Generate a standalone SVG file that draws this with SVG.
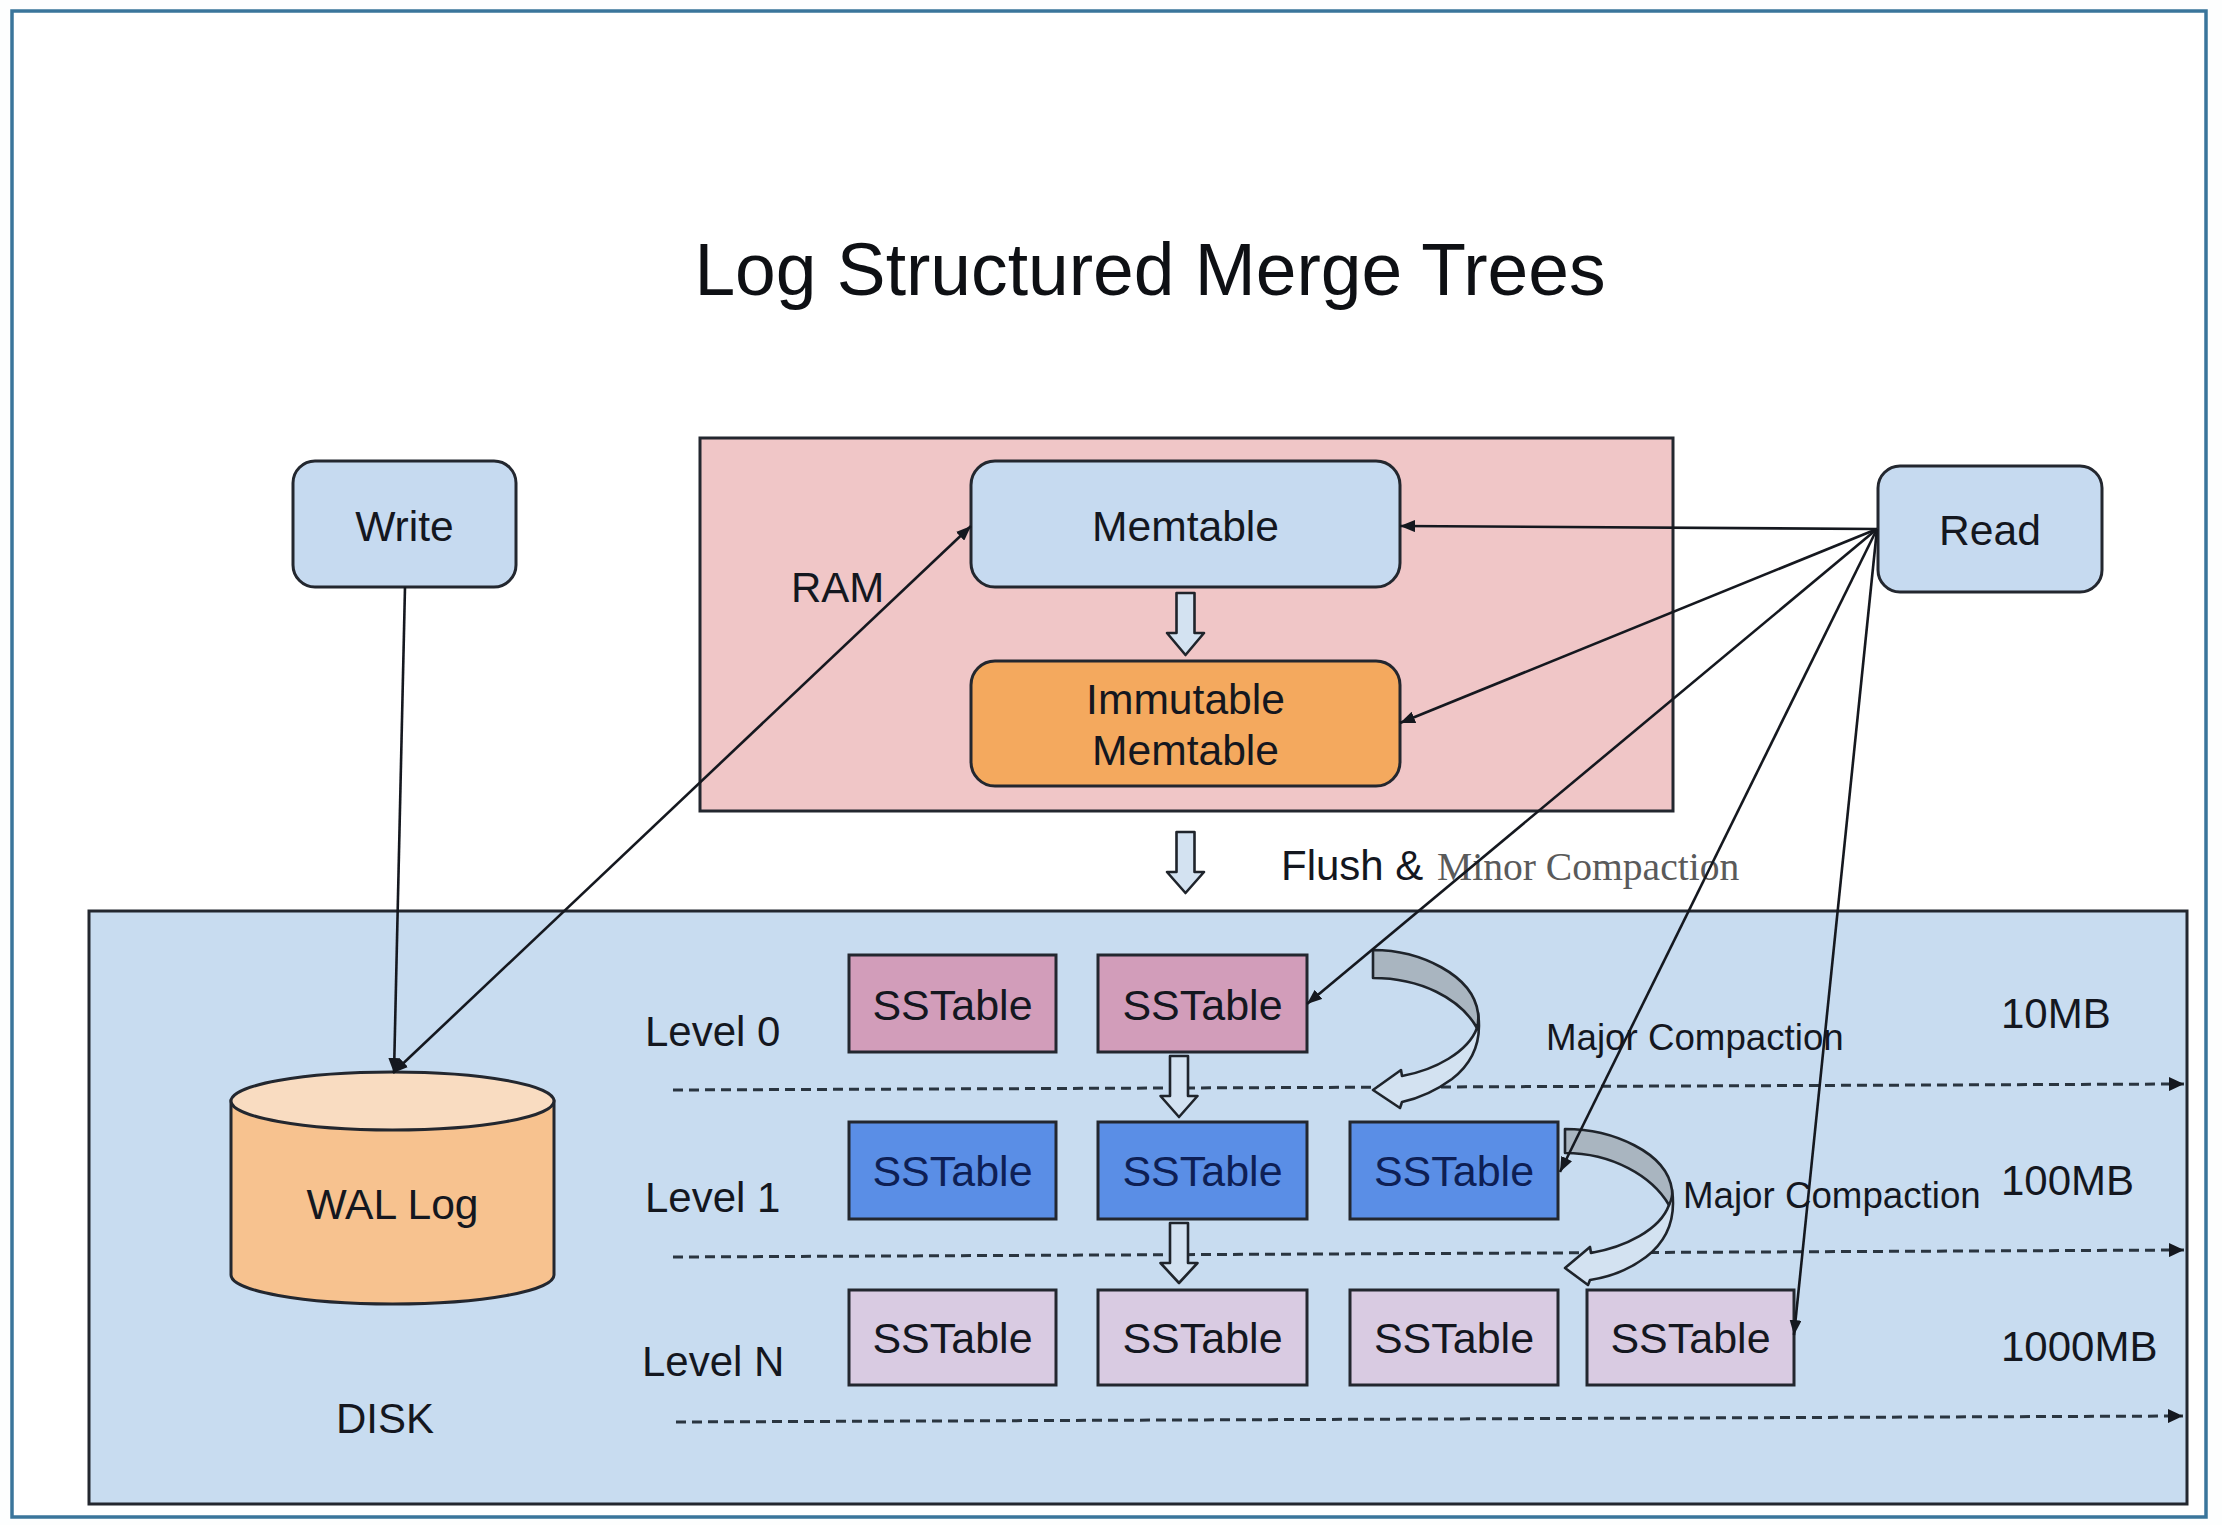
<svg xmlns="http://www.w3.org/2000/svg" width="2222" height="1525" viewBox="0 0 2222 1525">
<style>
text{font-family:"Liberation Sans",Arial,sans-serif;fill:#14171f;font-size:42px}
.m{text-anchor:middle}
.n{font-size:42.600px}
.box{stroke:#23272f;stroke-width:3}
.conn{fill:none;stroke:#15181f;stroke-width:2.600}
.dash{fill:none;stroke:#2a3540;stroke-width:3;stroke-dasharray:10 6}
.blk{fill:#d3e2f1;stroke:#1f242b;stroke-width:2.600;stroke-linejoin:round}
.gray{fill:#a9b5c0;stroke:#1f242b;stroke-width:2.600;stroke-linejoin:round}
.sst{font-size:43px}
.maj{font-size:36.700px}
.pink{fill:#d29dba}.blue{fill:#5a8ee6}.lilac{fill:#d9cbe2}
</style>
<defs>
<marker id="a" viewBox="0 0 15 12" refX="15" refY="6" markerWidth="15" markerHeight="12" orient="auto-start-reverse" markerUnits="userSpaceOnUse"><path d="M0 0L15 6L0 12Z" fill="#15181f"/></marker>
<marker id="d" viewBox="0 0 15 14" refX="15" refY="7" markerWidth="15" markerHeight="14" orient="auto" markerUnits="userSpaceOnUse"><path d="M0 0L15 7L0 14Z" fill="#15181f"/></marker>
</defs>
<rect id="canvas" width="2222" height="1525" fill="#fdfefe"/>
<rect id="frame" x="12" y="11" width="2194" height="1506" fill="#ffffff" stroke="#3a759b" stroke-width="3.500"/>
<text id="title" x="1150" y="295" class="m" style="font-size:73.200px;fill:#0e1014">Log Structured Merge Trees</text>

<g id="ram"><rect class="box" x="700" y="438" width="973" height="373" fill="#f0c6c7"/><text x="791" y="602">RAM</text></g>
<g id="disk"><rect class="box" x="89" y="911" width="2098" height="593" fill="#c8dcf0"/><text x="336" y="1433">DISK</text></g>

<g id="write"><rect class="box" x="293" y="461" width="223" height="126" rx="22" fill="#c6daf0"/><text class="m n" x="404.500" y="541">Write</text></g>
<g id="read"><rect class="box" x="1878" y="466" width="224" height="126" rx="22" fill="#c6daf0"/><text class="m n" x="1990" y="545">Read</text></g>
<g id="memtable"><rect class="box" x="971" y="461" width="429" height="126" rx="24" fill="#c6daf0"/><text class="m n" x="1185.500" y="541">Memtable</text></g>
<g id="immutable"><rect class="box" x="971" y="661" width="429" height="125" rx="24" fill="#f4a95e"/><text class="m n" x="1185.500" y="714">Immutable</text><text class="m n" x="1185.500" y="765">Memtable</text></g>

<g id="wal">
<path class="box" d="M231 1101V1275A161.500 29 0 0 0 554 1275V1101Z" fill="#f7c28f"/>
<ellipse class="box" cx="392.500" cy="1101" rx="161.500" ry="29" fill="#f9dcc1"/>
<text class="m n" x="392.500" y="1219">WAL Log</text>
</g>

<g id="labels">
<text x="645" y="1046">Level 0</text><text x="645" y="1212">Level 1</text><text x="642" y="1376">Level N</text>
<text x="2001" y="1028">10MB</text><text x="2001" y="1195">100MB</text><text x="2001" y="1361">1000MB</text>
<text x="1281" y="880">Flush &amp;</text>
<text x="1437" y="880" style="font-family:'Liberation Serif',serif;font-size:39.600px;fill:#5a5a5a">Minor Compaction</text>
<text class="maj" x="1546" y="1050">Major Compaction</text>
<text class="maj" x="1683" y="1208">Major Compaction</text>
</g>

<g id="sst-0-0"><rect class="box pink" x="849" y="955" width="207" height="97"/><text class="m sst" x="952.500" y="1020">SSTable</text></g>
<g id="sst-0-1"><rect class="box pink" x="1098" y="955" width="209" height="97"/><text class="m sst" x="1202.500" y="1020">SSTable</text></g>
<g id="sst-1-0"><rect class="box blue" x="849" y="1122" width="207" height="97"/><text class="m sst" x="952.500" y="1186" style="fill:#0e1f55">SSTable</text></g>
<g id="sst-1-1"><rect class="box blue" x="1098" y="1122" width="209" height="97"/><text class="m sst" x="1202.500" y="1186" style="fill:#0e1f55">SSTable</text></g>
<g id="sst-1-2"><rect class="box blue" x="1350" y="1122" width="208" height="97"/><text class="m sst" x="1454" y="1186" style="fill:#0e1f55">SSTable</text></g>
<g id="sst-n-0"><rect class="box lilac" x="849" y="1290" width="207" height="95"/><text class="m sst" x="952.500" y="1353">SSTable</text></g>
<g id="sst-n-1"><rect class="box lilac" x="1098" y="1290" width="209" height="95"/><text class="m sst" x="1202.500" y="1353">SSTable</text></g>
<g id="sst-n-2"><rect class="box lilac" x="1350" y="1290" width="208" height="95"/><text class="m sst" x="1454" y="1353">SSTable</text></g>
<g id="sst-n-3"><rect class="box lilac" x="1587" y="1290" width="207" height="95"/><text class="m sst" x="1690.500" y="1353">SSTable</text></g>

<g id="connectors">
<path class="dash" d="M673 1090L2184 1084" marker-end="url(#d)"/>
<path class="dash" d="M673 1257L2184 1250" marker-end="url(#d)"/>
<path class="dash" d="M676 1422L2183 1416" marker-end="url(#d)"/>
<path class="blk" d="M1176.500 593H1194.500V633H1204L1185.500 655L1167 633H1176.500Z"/>
<path class="blk" d="M1176.500 832H1194.500V872H1204L1185.500 893L1167 872H1176.500Z"/>
<path class="blk" d="M1170 1056H1188V1096H1197.500L1179 1117L1160.500 1096H1170Z"/>
<path class="blk" d="M1170 1223H1188V1263H1197.500L1179 1283L1160.500 1263H1170Z"/>
<g id="compaction-0">
<path class="blk" d="M1478 1013C1482 1040 1474 1062 1452 1079C1437 1090 1420 1098 1402 1102L1400 1108L1373 1090L1401 1070L1402 1076C1435 1070 1468 1052 1477 1028Z"/>
<path class="gray" d="M1373 950C1420 950 1473 975 1478 1013Q1479 1020 1477 1028C1460 998 1420 978 1373 978Z"/>
</g>
<g id="compaction-1">
<path class="blk" d="M1672 1190C1676 1217 1668 1240 1646 1257C1630 1269 1610 1277 1590 1280L1588 1285L1565 1268L1590 1247L1591 1253C1625 1247 1660 1230 1669 1205Z"/>
<path class="gray" d="M1565 1129C1612 1129 1667 1152 1672 1190Q1673 1197 1669 1205C1652 1176 1612 1153 1565 1153Z"/>
</g>
<path class="conn" d="M405 587L394 1073" marker-end="url(#a)"/>
<path class="conn" d="M393 1073L971 526" marker-start="url(#a)" marker-end="url(#a)"/>
<path class="conn" d="M1877 529L1400 526" marker-end="url(#a)"/>
<path class="conn" d="M1877 529L1400 723" marker-end="url(#a)"/>
<path class="conn" d="M1877 529L1307 1004" marker-end="url(#a)"/>
<path class="conn" d="M1877 529L1560 1172" marker-end="url(#a)"/>
<path class="conn" d="M1877 529L1794 1335" marker-end="url(#a)"/>
</g>
</svg>
